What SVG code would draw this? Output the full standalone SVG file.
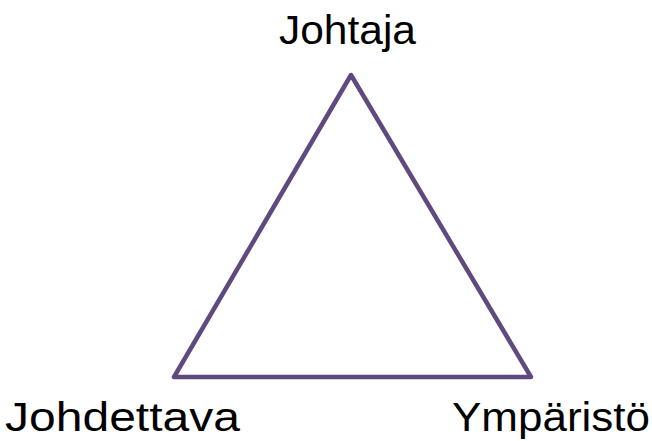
<svg xmlns="http://www.w3.org/2000/svg" width="652" height="441" viewBox="0 0 652 441">
<style>
.lbl{font-family:"Liberation Sans","Open Sans",sans-serif;font-size:40px;fill:#000}
.edge{fill:none;stroke:#5e4a7e;stroke-width:4.5;stroke-linejoin:round;stroke-linecap:round}
</style>
<rect width="652" height="441" fill="#fff"/>
<g id="connectors">
<polygon class="edge" points="351,75 174,377 531,377"/>
</g>
<g id="johtaja"><text class="lbl" x="279" y="44" textLength="137" lengthAdjust="spacingAndGlyphs">Johtaja</text></g>
<g id="johdettava"><text class="lbl" x="5" y="431" textLength="235" lengthAdjust="spacingAndGlyphs">Johdettava</text></g>
<g id="ymparisto"><text class="lbl" x="452" y="431" textLength="198" lengthAdjust="spacingAndGlyphs">Ympäristö</text></g>
</svg>
